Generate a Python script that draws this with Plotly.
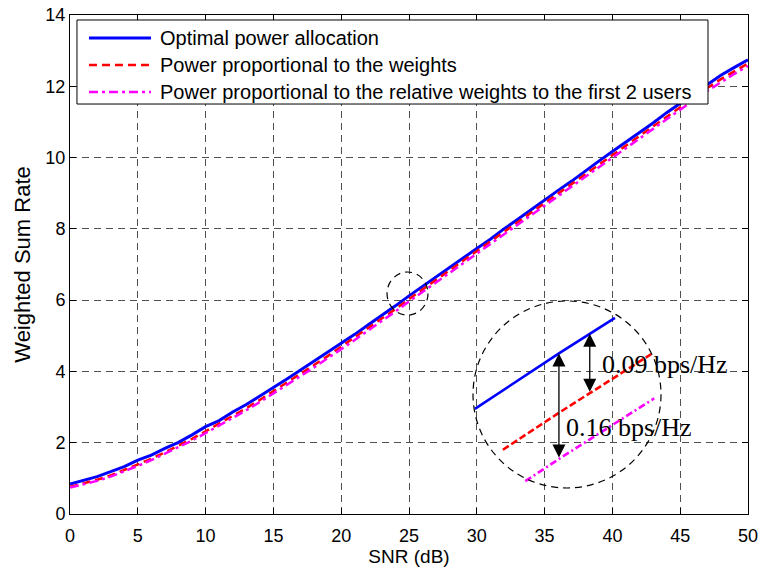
import numpy as np
import plotly.graph_objects as go

# SNR grid (dB)
snr = list(range(0, 51))

# Weighted sum rate for each allocation scheme
optimal = [0.84, 0.95, 1.05, 1.19, 1.33, 1.51, 1.65, 1.84, 2.01, 2.22,
           2.45, 2.62, 2.86, 3.07, 3.30, 3.55, 3.79, 4.04, 4.28, 4.53,
           4.79, 5.04, 5.31, 5.57, 5.84, 6.12, 6.39, 6.65, 6.92, 7.19,
           7.45, 7.71, 8.00, 8.26, 8.54, 8.80, 9.08, 9.34, 9.63, 9.90,
           10.17, 10.43, 10.71, 10.97, 11.26, 11.52, 11.80, 12.06, 12.31, 12.53,
           12.74]
prop_weights = [0.76, 0.85, 0.96, 1.08, 1.23, 1.39, 1.55, 1.73, 1.91, 2.11,
                2.32, 2.53, 2.75, 2.97, 3.20, 3.44, 3.69, 3.93, 4.18, 4.43,
                4.69, 4.95, 5.21, 5.48, 5.75, 6.03, 6.30, 6.56, 6.83, 7.10,
                7.36, 7.63, 7.90, 8.17, 8.44, 8.71, 8.98, 9.25, 9.53, 9.80,
                10.07, 10.34, 10.61, 10.88, 11.15, 11.42, 11.69, 11.95, 12.20, 12.43,
                12.64]
prop_relative = [0.74, 0.83, 0.93, 1.05, 1.19, 1.35, 1.51, 1.69, 1.87, 2.06,
                 2.27, 2.48, 2.69, 2.91, 3.14, 3.38, 3.62, 3.87, 4.11, 4.37,
                 4.62, 4.88, 5.15, 5.41, 5.68, 5.96, 6.23, 6.50, 6.76, 7.03,
                 7.30, 7.56, 7.83, 8.10, 8.37, 8.64, 8.91, 9.18, 9.45, 9.72,
                 10.00, 10.27, 10.54, 10.81, 11.08, 11.35, 11.61, 11.87, 12.12, 12.35,
                 12.57]

names = ["Optimal power allocation",
         "Power proportional to the weights",
         "Power proportional to the relative weights to the first 2 users"]
series = [optimal, prop_weights, prop_relative]
colors = ["#0000ff", "#ff0000", "#ff00ff"]
dashes = ["solid", "8px,5px", "9px,4px,3px,4px"]
widths = [3, 2.5, 2.5]

# Magnified view around SNR = 25 dB
inset_spans = [(24.70, 25.20), (24.80, 25.33), (24.88, 25.34)]
inset_dashes = ["solid", "7px,3px", "7px,3px,2px,3px"]
gap_labels = ["0.09 bps/Hz", "0.16 bps/Hz"]

FONT = "Liberation Sans, Arial, sans-serif"
SERIF = "Liberation Serif, Times New Roman, serif"

fig = go.Figure()
for name, ys, c, d, w in zip(names, series, colors, dashes, widths):
    fig.add_trace(go.Scatter(x=snr, y=ys, mode="lines", name=name, showlegend=False,
                             line=dict(color=c, dash=d, width=w)))

# zoomed segments drawn on a separate, hidden pair of axes
for ys, c, d, (a, b) in zip(series, colors, inset_dashes, inset_spans):
    xs = [a] + [v for v in snr if a < v < b] + [b]
    yi = np.interp(xs, snr, ys)
    fig.add_trace(go.Scatter(x=xs, y=yi, mode="lines", showlegend=False,
                             xaxis="x2", yaxis="y2", hoverinfo="skip",
                             line=dict(color=c, dash=d, width=2.6)))

def arrow(xv, y_top, y_bot):
    return dict(x=xv, y=y_top, ax=xv, ay=y_bot, xref="x2", yref="y2",
                axref="x2", ayref="y2", text="", showarrow=True,
                arrowhead=2, startarrowhead=2, arrowside="end+start",
                arrowsize=2.0, startarrowsize=2.0, arrowwidth=1.3,
                arrowcolor="black")

x_a1, x_a2 = 25.00, 25.11
annotations = [
    arrow(x_a1, float(np.interp(x_a1, snr, optimal)), float(np.interp(x_a1, snr, prop_relative))),
    arrow(x_a2, float(np.interp(x_a2, snr, optimal)), float(np.interp(x_a2, snr, prop_weights))),
    dict(x=0.7817, y=0.2986, xref="paper", yref="paper", text=gap_labels[0],
         showarrow=False, xanchor="left", yanchor="middle",
         font=dict(family=SERIF, size=26, color="black")),
    dict(x=0.7286, y=0.1743, xref="paper", yref="paper", text=gap_labels[1],
         showarrow=False, xanchor="left", yanchor="middle",
         font=dict(family=SERIF, size=26, color="black")),
]

shapes = [
    dict(type="circle", xref="paper", yref="paper", x0=0.5944, x1=0.8717,
         y0=0.0521, y1=0.4269, line=dict(color="black", width=1.2, dash="7px,5px")),
    dict(type="circle", xref="x", yref="y", x0=23.38, x1=26.40, y0=5.58, y1=6.79,
         line=dict(color="black", width=1.2, dash="7px,5px")),
]

# legend box with long line samples
leg_x0, leg_x1, leg_y0, leg_y1 = 0.0103, 0.941, 0.8216, 0.99
row_y = [0.9539, 0.8998, 0.8457]
sample_x0, sample_x1, text_x = 0.028, 0.1195, 0.1298
shapes.append(dict(type="rect", xref="paper", yref="paper", x0=leg_x0, x1=leg_x1,
                   y0=leg_y0, y1=leg_y1, fillcolor="white",
                   line=dict(color="black", width=1), layer="above"))
for name, c, d, w, yr in zip(names, colors, dashes, widths, row_y):
    shapes.append(dict(type="line", xref="paper", yref="paper", x0=sample_x0, x1=sample_x1,
                       y0=yr, y1=yr, line=dict(color=c, dash=d, width=w), layer="above"))
    annotations.append(dict(x=text_x, y=yr, xref="paper", yref="paper", text=name,
                            showarrow=False, xanchor="left", yanchor="middle",
                            font=dict(family=FONT, size=20, color="black")))

axis_common = dict(showline=True, linecolor="black", linewidth=1, mirror="ticks",
                   ticks="inside", ticklen=6, tickcolor="black", automargin=False,
                   showgrid=True, gridcolor="#505050", gridwidth=1, griddash="7px,5px",
                   zeroline=False, tickfont=dict(family=FONT, size=18, color="black"))

fig.update_layout(
    width=759, height=567,
    margin=dict(l=70, r=11, t=15, b=53),
    paper_bgcolor="white", plot_bgcolor="rgba(0,0,0,0)",
    font=dict(family=FONT, color="black"),
    showlegend=False,
    xaxis=dict(range=[0, 50], tick0=0, dtick=5, ticklabelstandoff=5,
               title=dict(text="SNR (dB)", font=dict(family=FONT, size=19), standoff=8),
               **axis_common),
    yaxis=dict(range=[0, 14], tick0=0, dtick=2,
               title=dict(text="Weighted Sum Rate", font=dict(family=FONT, size=22), standoff=8),
               **axis_common),
    xaxis2=dict(domain=[0.5885, 0.8761], anchor="y2", range=[24.679, 25.375], visible=False),
    yaxis2=dict(domain=[0.0481, 0.4289], anchor="x2", range=[5.913, 6.201], visible=False),
    annotations=annotations,
    shapes=shapes,
)

fig.write_html("out.html")
